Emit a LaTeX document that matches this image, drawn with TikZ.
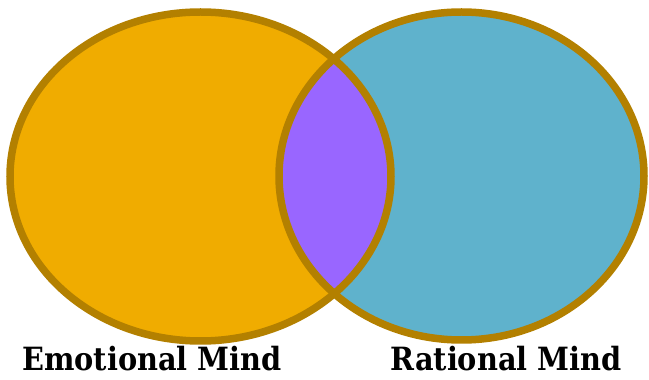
\documentclass[tikz,border=0pt]{standalone}
\usepackage{fontspec}
\newfontfamily\labelfont{DejaVu Serif Condensed Bold}
\usetikzlibrary{positioning}
\definecolor{emofill}{RGB}{240,172,0}
\definecolor{ratfill}{RGB}{95,178,204}
\definecolor{midfill}{RGB}{153,102,255}
\definecolor{rimcol}{RGB}{179,128,0}
\tikzset{
  rim/.style   = {draw=rimcol, line width=7.5pt},
  mindlbl/.style = {font=\labelfont\fontsize{32}{32}\selectfont, inner sep=0pt,
                    text depth=0pt, anchor=base},
}

\begin{document}
\begin{tikzpicture}[x=1pt, y=1pt]
  \useasboundingbox (0,0) rectangle (649,380);
  \coordinate (emo) at (200.5,203.5);
  \coordinate (rat) at (461.5,204);

  % fills
  \fill[emofill] (emo) ellipse [x radius=190.5, y radius=164.5];
  \fill[ratfill] (rat) ellipse [x radius=182.5, y radius=164];
  \begin{scope}
    \clip (emo) ellipse [x radius=190.5, y radius=164.5];
    \fill[midfill] (rat) ellipse [x radius=182.5, y radius=164];
  \end{scope}

  % outlines
  \draw[rim] (emo) ellipse [x radius=190.5, y radius=164.5];
  \draw[rim] (rat) ellipse [x radius=182.5, y radius=164];

  \node[mindlbl] (emolbl) at (152,9) {Emotional Mind};
  \node[mindlbl] (ratlbl) at (506,9) {Rational Mind};
\end{tikzpicture}
\end{document}
